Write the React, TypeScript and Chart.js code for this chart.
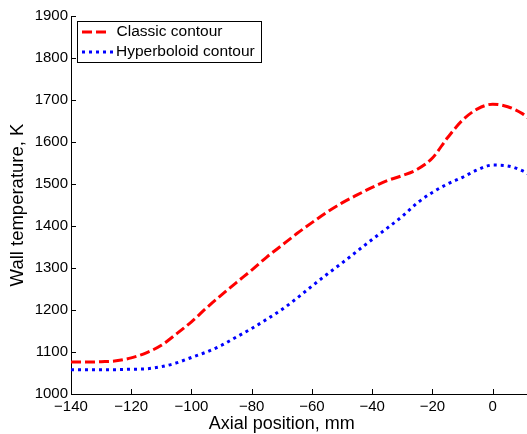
import React, { useEffect, useRef } from "react";
import { Chart, registerables } from "chart.js";

Chart.register(...registerables);

// Axial position, mm
const positions = [
  -140, -135, -130, -125, -120, -115, -110, -105, -100, -95, -90, -85, -80,
  -75, -70, -65, -60, -55, -50, -45, -40, -35, -30, -25, -20, -15, -10, -5,
  0, 5, 10, 12,
];
// Wall temperature, K
const classicContour = [
  1076, 1076, 1077, 1079, 1086, 1098, 1116, 1143, 1172, 1205, 1236, 1266,
  1295, 1326, 1354, 1382, 1408, 1433, 1455, 1474, 1492, 1508, 1520, 1535,
  1562, 1610, 1652, 1679, 1690, 1684, 1667, 1656,
];
const hyperboloidContour = [
  1058, 1058, 1058, 1058, 1059, 1060, 1065, 1074, 1087, 1100, 1116, 1136,
  1156, 1178, 1201, 1228, 1257, 1285, 1312, 1340, 1368, 1395, 1423, 1455,
  1480, 1500, 1516, 1534, 1545, 1543, 1531, 1523,
];
const xTickValues = [-140, -120, -100, -80, -60, -40, -20, 0];
const yTickValues = [1000, 1100, 1200, 1300, 1400, 1500, 1600, 1700, 1800, 1900];
const seriesLabels = ["Classic contour", "Hyperboloid contour"];
const xAxisTitle = "Axial position, mm";
const yAxisTitle = "Wall temperature, K";

const FONT = "'Liberation Sans', Arial, Helvetica, sans-serif";
const RED = "#ff0000";
const BLUE = "#0000ff";
const RED_DASH = [10, 4];
const BLUE_DASH = [3, 4];

const fmt = (v: number) => (v < 0 ? "\u2212" + Math.abs(v) : String(v));

const overlayPlugin = {
  id: "overlay",
  afterDraw(chart: any) {
    const { ctx, chartArea, scales } = chart;
    ctx.save();
    // inward tick marks
    ctx.strokeStyle = "#000";
    ctx.lineWidth = 1;
    ctx.setLineDash([]);
    ctx.beginPath();
    for (const v of xTickValues) {
      const x = Math.round(scales.x.getPixelForValue(v)) + 0.5;
      ctx.moveTo(x, chartArea.bottom);
      ctx.lineTo(x, chartArea.bottom - 5);
    }
    for (const v of yTickValues) {
      const y = Math.round(scales.y.getPixelForValue(v)) + 0.5;
      ctx.moveTo(chartArea.left, y);
      ctx.lineTo(chartArea.left + 5, y);
    }
    ctx.stroke();

    // x-axis title, centred under the -140..0 span of the axis
    const xc = (scales.x.getPixelForValue(xTickValues[0]) +
      scales.x.getPixelForValue(xTickValues[xTickValues.length - 1])) / 2;
    ctx.fillStyle = "#000";
    ctx.font = `18px ${FONT}`;
    ctx.textAlign = "center";
    ctx.textBaseline = "alphabetic";
    ctx.fillText(xAxisTitle, xc, chartArea.bottom + 35);

    // legend box
    const bx = Math.round(chartArea.left) + 6.5;
    const by = Math.round(chartArea.top) + 5.5;
    const bw = 184;
    const bh = 41;
    ctx.fillStyle = "#fff";
    ctx.fillRect(bx, by, bw, bh);
    ctx.strokeStyle = "#000";
    ctx.lineWidth = 1;
    ctx.strokeRect(bx, by, bw, bh);

    const rows = [
      { label: seriesLabels[0], color: RED, dash: RED_DASH, y: by + 10.5, x2: bx + 31, tx: bx + 39 },
      { label: seriesLabels[1], color: BLUE, dash: BLUE_DASH, y: by + 30.5, x2: bx + 38, tx: bx + 38.5 },
    ];
    for (const r of rows) {
      ctx.strokeStyle = r.color;
      ctx.lineWidth = 3;
      ctx.setLineDash(r.dash);
      ctx.beginPath();
      ctx.moveTo(bx + 4.5, r.y);
      ctx.lineTo(r.x2, r.y);
      ctx.stroke();
      ctx.setLineDash([]);
      ctx.fillStyle = "#000";
      ctx.font = `15.5px ${FONT}`;
      ctx.textBaseline = "middle";
      ctx.textAlign = "left";
      ctx.fillText(r.label, r.tx, r.y);
    }
    ctx.restore();
  },
};

export default function App() {
  const canvasRef = useRef<HTMLCanvasElement | null>(null);

  useEffect(() => {
    if (!canvasRef.current) return;
    const chart = new Chart(canvasRef.current, {
      type: "line",
      data: {
        datasets: [
          {
            label: seriesLabels[0],
            data: positions.map((x, i) => ({ x, y: classicContour[i] })),
            borderColor: RED,
            borderWidth: 3,
            borderDash: RED_DASH,
            pointRadius: 0,
            cubicInterpolationMode: "monotone",
            fill: false,
          },
          {
            label: seriesLabels[1],
            data: positions.map((x, i) => ({ x, y: hyperboloidContour[i] })),
            borderColor: BLUE,
            borderWidth: 3,
            borderDash: BLUE_DASH,
            pointRadius: 0,
            cubicInterpolationMode: "monotone",
            fill: false,
          },
        ],
      },
      options: {
        animation: false,
        responsive: false,
        devicePixelRatio: 1,
        layout: { padding: { top: 16, right: 0, bottom: 0, left: 0 } },
        plugins: {
          legend: { display: false },
          tooltip: { enabled: false },
        },
        scales: {
          x: {
            type: "linear",
            min: -140,
            max: 11.4,
            afterBuildTicks: (s: any) => {
              s.ticks = xTickValues.map((value) => ({ value }));
            },
            afterFit: (s: any) => {
              s.height = 40;
            },
            ticks: {
              autoSkip: false,
              maxRotation: 0,
              padding: 4,
              color: "#000",
              font: { family: FONT, size: 15 },
              callback: (v: any) => fmt(Number(v)),
            },
            grid: { display: false, drawTicks: false },
            border: { display: true, color: "#000", width: 1 },
            title: { display: false },
          },
          y: {
            type: "linear",
            min: 1000,
            max: 1900,
            afterBuildTicks: (s: any) => {
              s.ticks = yTickValues.map((value) => ({ value }));
            },
            afterFit: (s: any) => {
              s.width = 71;
            },
            ticks: {
              autoSkip: false,
              padding: 3,
              color: "#000",
              font: { family: FONT, size: 15 },
              callback: (v: any) => fmt(Number(v)),
            },
            grid: { display: false, drawTicks: false },
            border: { display: true, color: "#000", width: 1 },
            title: {
              display: true,
              text: yAxisTitle,
              color: "#000",
              font: { family: FONT, size: 18.5 },
              padding: { top: 7, bottom: 0 },
            },
          },
        },
      },
      plugins: [overlayPlugin],
    } as any);
    return () => chart.destroy();
  }, []);

  return (
    <div style={{ position: "fixed", left: 0, top: 0, width: 527, height: 434, background: "#fff" }}>
      <canvas ref={canvasRef} width={527} height={434} style={{ display: "block" }} />
    </div>
  );
}
